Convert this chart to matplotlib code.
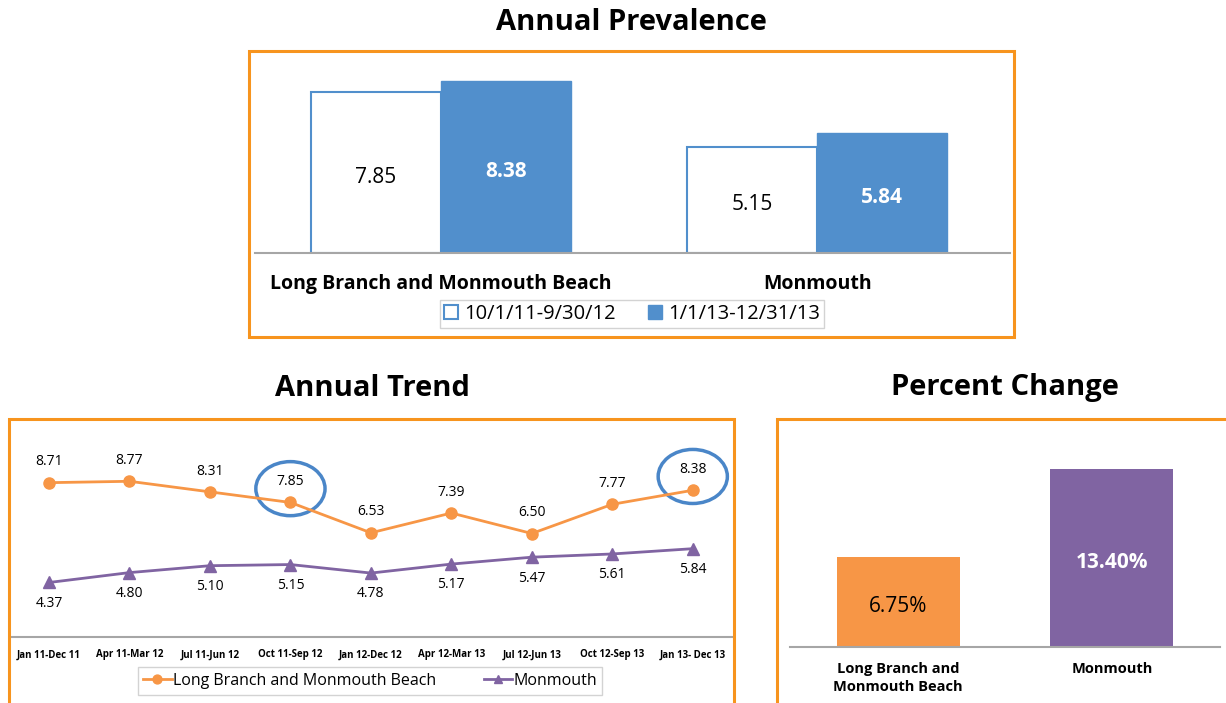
import matplotlib
matplotlib.use("Agg")
import matplotlib.pyplot as plt
from matplotlib.patches import Rectangle, Ellipse, Patch
from matplotlib.lines import Line2D

plt.rcParams["font.family"] = ["Open Sans", "DejaVu Sans"]

# --- data ---
prev_groups = ["Long Branch and Monmouth Beach", "Monmouth"]
prev_period1 = [7.85, 5.15]
prev_period2 = [8.38, 5.84]
prev_labels = ["10/1/11-9/30/12", "1/1/13-12/31/13"]

trend_periods = ["Jan 11-Dec 11", "Apr 11-Mar 12", "Jul 11-Jun 12", "Oct 11-Sep 12",
                 "Jan 12-Dec 12", "Apr 12-Mar 13", "Jul 12-Jun 13", "Oct 12-Sep 13",
                 "Jan 13- Dec 13"]
trend_lbmb = [8.71, 8.77, 8.31, 7.85, 6.53, 7.39, 6.50, 7.77, 8.38]
trend_monmouth = [4.37, 4.80, 5.10, 5.15, 4.78, 5.17, 5.47, 5.61, 5.84]
trend_names = ["Long Branch and Monmouth Beach", "Monmouth"]
highlight_idx = [3, 8]

change_groups = ["Long Branch and\nMonmouth Beach", "Monmouth"]
change_values = [6.75, 13.40]

ORANGE_BORDER = "#f7941e"
BLUE = "#518fcc"
ORANGE = "#f79646"
PURPLE = "#8064a2"
GRAY = "#a6a6a6"

W, H = 1226, 703
fig = plt.figure(figsize=(W / 100, H / 100), dpi=100)


def px_rect(x0, y0, x1, y1):
    return [x0 / W, 1 - y1 / H, (x1 - x0) / W, (y1 - y0) / H]


def border(x0, y0, x1, y1):
    fig.patches.append(Rectangle((x0 / W, 1 - y1 / H), (x1 - x0) / W, (y1 - y0) / H,
                                 transform=fig.transFigure, fill=False,
                                 edgecolor=ORANGE_BORDER, linewidth=2.2))


def clean(ax):
    for s in ["top", "left", "right"]:
        ax.spines[s].set_visible(False)
    ax.spines["bottom"].set_color(GRAY)
    ax.spines["bottom"].set_linewidth(1.5)
    ax.set_yticks([])
    ax.tick_params(axis="x", length=0)


def inner_label(ax, x, y, txt, **kw):
    # value label centred in the bar, nudged slightly down like the original
    ax.annotate(txt, (x, y), xytext=(0, -3.5), textcoords="offset points",
                ha="center", va="center", **kw)


# --- top: annual prevalence ---
border(249, 51, 1014, 337)
fig.text(631 / W, 1 - 23 / H, "Annual Prevalence", ha="center", va="center",
         fontsize=21, fontweight="bold")

ax1 = fig.add_axes(px_rect(255, 60, 1010, 253))
clean(ax1)
bw = 0.346
xs = range(len(prev_groups))
ax1.bar([x - bw / 2 for x in xs], prev_period1, width=bw, color="white",
        edgecolor=BLUE, linewidth=1.5)
ax1.bar([x + bw / 2 for x in xs], prev_period2, width=bw, color=BLUE, edgecolor=BLUE)
for x, a, b in zip(xs, prev_period1, prev_period2):
    inner_label(ax1, x - bw / 2, a / 2, f"{a:.2f}", fontsize=15)
    inner_label(ax1, x + bw / 2, b / 2, f"{b:.2f}", fontsize=15, color="white",
                fontweight="bold")
ax1.set_xlim(-0.495, 1.513)
ax1.set_ylim(0, 9.4)
ax1.set_xticks(list(xs))
ax1.set_xticklabels(prev_groups, fontsize=14, fontweight="bold")
ax1.tick_params(axis="x", pad=15)
handles = [Patch(facecolor="white", edgecolor=BLUE, linewidth=1.5),
           Patch(facecolor=BLUE, edgecolor=BLUE)]
fig.legend(handles, prev_labels, loc="center", bbox_to_anchor=(632 / W, 1 - 314 / H),
           ncol=2, fontsize=14.5, frameon=True, fancybox=False, edgecolor="#c8c8c8",
           handlelength=0.7, handleheight=0.7, handletextpad=0.3, columnspacing=1.6,
           borderpad=0.2)

# --- bottom left: annual trend ---
border(9, 419, 734, 720)
fig.text(372 / W, 1 - 388 / H, "Annual Trend", ha="center", va="center",
         fontsize=21, fontweight="bold")

ax2 = fig.add_axes(px_rect(10, 430, 733, 637))
clean(ax2)
tx = list(range(len(trend_periods)))
l1, = ax2.plot(tx, trend_lbmb, color=ORANGE, linewidth=2, marker="o", markersize=8,
               label=trend_names[0])
l2, = ax2.plot(tx, trend_monmouth, color=PURPLE, linewidth=2, marker="^", markersize=8,
               label=trend_names[1])
for x, v in zip(tx, trend_lbmb):
    ax2.annotate(f"{v:.2f}", (x, v), xytext=(0, 15), textcoords="offset points",
                 ha="center", va="center", fontsize=10)
for x, v in zip(tx, trend_monmouth):
    ax2.annotate(f"{v:.2f}", (x, v), xytext=(0, -15), textcoords="offset points",
                 ha="center", va="center", fontsize=10)
ax2.set_xlim(-0.485, 8.5)
ax2.set_ylim(2, 11)
ax2.set_xticks(tx)
ax2.set_xticklabels(trend_periods, fontsize=7, fontweight="bold")
ax2.tick_params(axis="x", pad=9)
for i in highlight_idx:
    ax2.add_patch(Ellipse((i, trend_lbmb[i] + 0.6), 0.86, 2.35, fill=False,
                          edgecolor="#4a86c8", linewidth=2.5, clip_on=False))
fig.legend([l1, l2], trend_names, loc="center", bbox_to_anchor=(370 / W, 1 - 681 / H),
           ncol=2, fontsize=11.5, frameon=True, fancybox=False, edgecolor="#c8c8c8",
           handlelength=1.8, handletextpad=0.05, columnspacing=3.0, borderpad=0.35,
           markerscale=0.8)

# --- bottom right: percent change ---
border(777, 419, 1240, 720)
fig.text(1005 / W, 1 - 388 / H, "Percent Change", ha="center", va="center",
         fontsize=21, fontweight="bold")

ax3 = fig.add_axes(px_rect(790, 430, 1220, 647))
clean(ax3)
cx = list(range(len(change_groups)))
ax3.bar(cx, change_values, width=0.575, color=[ORANGE, PURPLE])
inner_label(ax3, cx[0], change_values[0] / 2, f"{change_values[0]:.2f}%", fontsize=15)
inner_label(ax3, cx[1], change_values[1] / 2, f"{change_values[1]:.2f}%", fontsize=15,
            color="white", fontweight="bold")
ax3.set_xlim(-0.505, 1.505)
ax3.set_ylim(0, 16.3)
ax3.set_xticks(cx)
ax3.set_xticklabels(change_groups, fontsize=10.5, fontweight="bold", va="top",
                    linespacing=1.35)
ax3.tick_params(axis="x", pad=11)

fig.savefig("out.png", dpi=100)
